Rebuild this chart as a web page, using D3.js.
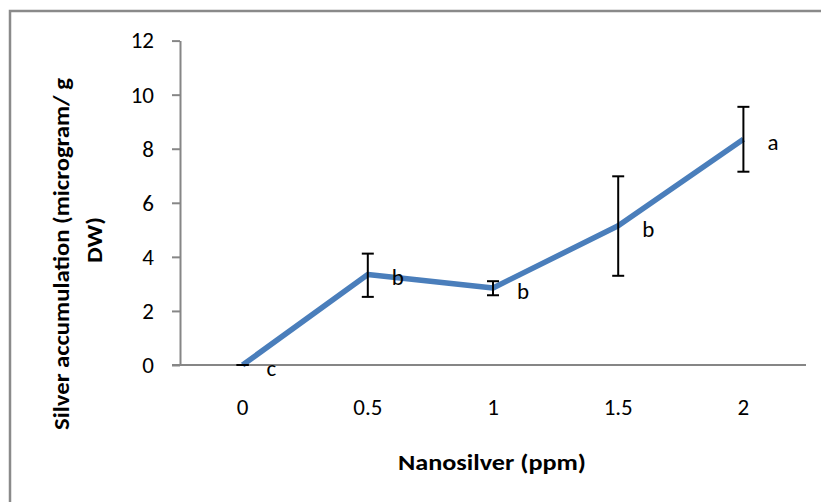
<!DOCTYPE html>
<html>
<head>
<meta charset="utf-8">
<script src="https://cdn.jsdelivr.net/npm/d3@7"></script>
<style>
  html, body { margin: 0; padding: 0; background: #fff; }
  svg { display: block; }
</style>
</head>
<body>
<div id="chart"></div>
<script>
// Silver accumulation vs nanosilver concentration
const categories = ['0', '0.5', '1', '1.5', '2'];
const means = [0, 3.35, 2.85, 5.15, 8.35];
const errUpper = [0, 4.12, 3.1, 6.98, 9.55];
const errLower = [0, 2.52, 2.58, 3.3, 7.15];
const letters = ['c', 'b', 'b', 'b', 'a'];
const yTicks = [0, 2, 4, 6, 8, 10, 12];

const W = 821, H = 502;
const font = "Carlito, Calibri, 'Open Sans', 'Noto Sans', sans-serif";
const axisGrey = '#868686';
const lineBlue = '#4a7ebb';
const tickFs = 23;
const titleFs = 22;

const svg = d3.select('#chart').append('svg')
  .attr('width', W)
  .attr('height', H);

svg.append('rect').attr('width', W).attr('height', H).attr('fill', '#fff');

// chart area border (runs off the right / bottom edge)
svg.append('rect')
  .attr('x', 10).attr('y', 11)
  .attr('width', 900).attr('height', 600)
  .attr('fill', 'none')
  .attr('stroke', '#8a8a8a')
  .attr('stroke-width', 2.5);

const plot = { left: 180, right: 806, top: 40.6, bottom: 365 };

const x = d3.scaleBand()
  .domain(categories)
  .range([plot.left, plot.right])
  .padding(0);

const cx = (c) => x(c) + x.bandwidth() / 2;

const y = d3.scaleLinear()
  .domain([0, 12])
  .range([plot.bottom, plot.top]);

// y axis
const gy = svg.append('g')
  .attr('transform', `translate(${plot.left},0)`)
  .call(d3.axisLeft(y).tickValues(yTicks).tickSize(8).tickPadding(18).tickSizeOuter(0));
gy.select('.domain').attr('stroke', axisGrey).attr('stroke-width', 2);
gy.selectAll('.tick line').attr('stroke', axisGrey).attr('stroke-width', 2);
gy.selectAll('.tick text')
  .attr('font-family', font)
  .attr('font-size', tickFs)
  .attr('fill', '#000');

// x axis (no tick marks, line extends slightly left of y axis)
const gx = svg.append('g')
  .attr('transform', `translate(0,${plot.bottom})`)
  .call(d3.axisBottom(x).tickSize(0).tickPadding(34));
gx.select('.domain').remove();
gx.selectAll('.tick text')
  .attr('font-family', font)
  .attr('font-size', tickFs)
  .attr('fill', '#000');
svg.append('line')
  .attr('x1', plot.left - 8).attr('x2', plot.right)
  .attr('y1', plot.bottom).attr('y2', plot.bottom)
  .attr('stroke', axisGrey)
  .attr('stroke-width', 2);

const data = categories.map((c, i) => ({
  c, v: means[i], hi: errUpper[i], lo: errLower[i], letter: letters[i]
}));

// series line
const line = d3.line()
  .x((d) => cx(d.c))
  .y((d) => y(d.v));

svg.append('path')
  .datum(data)
  .attr('d', line)
  .attr('fill', 'none')
  .attr('stroke', lineBlue)
  .attr('stroke-width', 5.5)
  .attr('stroke-linejoin', 'round');

// error bars
const eb = svg.append('g')
  .attr('stroke', '#000')
  .attr('stroke-width', 2);
const cap = 6;
data.forEach((d) => {
  const px = cx(d.c);
  eb.append('line').attr('x1', px).attr('x2', px).attr('y1', y(d.hi)).attr('y2', y(d.lo));
  eb.append('line').attr('x1', px - cap).attr('x2', px + cap).attr('y1', y(d.hi)).attr('y2', y(d.hi));
  eb.append('line').attr('x1', px - cap).attr('x2', px + cap).attr('y1', y(d.lo)).attr('y2', y(d.lo));
});

// significance letters
svg.append('g')
  .selectAll('text')
  .data(data)
  .enter()
  .append('text')
  .attr('x', (d) => cx(d.c) + 24)
  .attr('y', (d) => y(d.v) + 11)
  .attr('font-family', font)
  .attr('font-size', tickFs)
  .attr('fill', '#000')
  .text((d) => d.letter);

// axis titles
svg.append('text')
  .attr('x', 492)
  .attr('y', 470)
  .attr('text-anchor', 'middle')
  .attr('font-family', font)
  .attr('font-size', titleFs)
  .attr('font-weight', 'bold')
  .attr('textLength', 188)
  .attr('lengthAdjust', 'spacingAndGlyphs')
  .text('Nanosilver (ppm)');

const yt = svg.append('g')
  .attr('transform', 'translate(0,254) rotate(-90)')
  .attr('font-family', font)
  .attr('font-size', titleFs)
  .attr('font-weight', 'bold')
  .attr('text-anchor', 'middle');
yt.append('text')
  .attr('x', 0).attr('y', 69)
  .attr('textLength', 352)
  .attr('lengthAdjust', 'spacingAndGlyphs')
  .text('Silver accumulation (microgram/ g');
yt.append('text')
  .attr('x', 14).attr('y', 102)
  .attr('textLength', 46)
  .attr('lengthAdjust', 'spacingAndGlyphs')
  .text('DW)');
</script>
</body>
</html>
